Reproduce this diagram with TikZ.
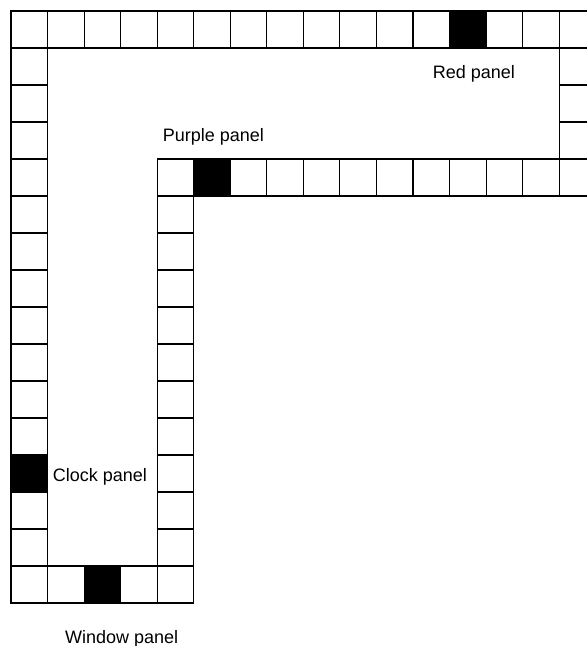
\documentclass[tikz,border=0pt]{standalone}
\usepackage{fontspec}
\setmainfont{Liberation Sans}
\usetikzlibrary{positioning}
% one square of the track: column #2, row #3
\providecommand{\slot}{}
\renewcommand{\slot}[3][cell]{\node[#1] (c-#2-#3) at ({29.27+36.55*#2},{29.5+37*#3}) {};}

\begin{document}
\begin{tikzpicture}[
  x=1pt,y=-1pt,
  font=\fontsize{18}{21}\selectfont,
  cell/.style={draw,line width=1.1pt,minimum width=36.55pt,minimum height=37pt,inner sep=0pt,outer sep=0pt},
  lit/.style={cell,fill=black},
  lbl/.style={inner sep=0pt,anchor=base west}]

\clip (0,0) rectangle (587,646);

% top row and right end
\foreach \c in {0,...,11,13,14,15} \slot{\c}{0};
\slot[lit]{12}{0}
\foreach \r in {1,...,3} \slot{15}{\r};

% second row
\slot{4}{4}
\slot[lit]{5}{4}
\foreach \c in {6,...,15} \slot{\c}{4};

% left and inner columns
\foreach \r in {1,...,11,13,14,15} \slot{0}{\r};
\slot[lit]{0}{12}
\foreach \r in {5,...,15} \slot{4}{\r};

% bottom row
\foreach \c in {1,3} \slot{\c}{15};
\slot[lit]{2}{15}

\node[lbl] (red)    at (432.7,78)  {Red panel};
\node[lbl] (purple) at (162.7,141) {Purple panel};
\node[lbl] (clock)  at (52.7,481)  {Clock panel};
\node[lbl] (window) at (65,643)    {Window panel};
\end{tikzpicture}
\end{document}
